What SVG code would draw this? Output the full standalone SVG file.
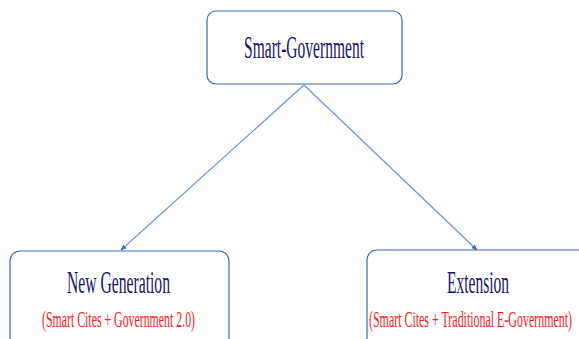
<svg xmlns="http://www.w3.org/2000/svg" width="579" height="339" viewBox="0 0 579 339">
  <style>
    .box { fill: #ffffff; stroke: #3f66b8; stroke-width: 1.2; }
    .title { font-family: "Liberation Serif", "Times New Roman", serif; font-size: 31px; fill: #16166e; text-anchor: middle; }
    .sub { font-family: "Liberation Serif", "Times New Roman", serif; font-size: 24px; fill: #ff1a1a; text-anchor: middle; }
    .link { stroke: #6f93d6; stroke-width: 1.2; fill: none; }
  </style>
  <defs>
    <marker id="arrow" viewBox="0 0 10 10" refX="9" refY="5" markerWidth="6" markerHeight="6" markerUnits="userSpaceOnUse" orient="auto">
      <path d="M0,1 L10,5 L0,9 z" fill="#3f66b8"/>
    </marker>
  </defs>
  <rect width="579" height="339" fill="#ffffff"/>

  <g id="connectors">
    <line class="link" x1="304" y1="85" x2="121" y2="250" marker-end="url(#arrow)"/>
    <line class="link" x1="304" y1="85" x2="477" y2="250" marker-end="url(#arrow)"/>
  </g>

  <g id="smart-government">
    <rect class="box" x="207" y="11" width="195" height="73" rx="9"/>
    <text class="title" x="304" y="58" textLength="120" lengthAdjust="spacingAndGlyphs">Smart-Government</text>
  </g>

  <g id="new-generation">
    <rect class="box" x="10" y="251" width="219" height="110" rx="10"/>
    <text class="title" x="118.5" y="293" textLength="103" lengthAdjust="spacingAndGlyphs">New Generation</text>
    <text class="sub" x="118.5" y="327" textLength="153" lengthAdjust="spacingAndGlyphs">(Smart Cites + Government 2.0)</text>
  </g>

  <g id="extension">
    <rect class="box" x="367" y="250" width="230" height="110" rx="10"/>
    <text class="title" x="478" y="293" textLength="62" lengthAdjust="spacingAndGlyphs">Extension</text>
    <text class="sub" x="470.5" y="327" textLength="203" lengthAdjust="spacingAndGlyphs">(Smart Cites + Traditional E-Government)</text>
  </g>
</svg>
